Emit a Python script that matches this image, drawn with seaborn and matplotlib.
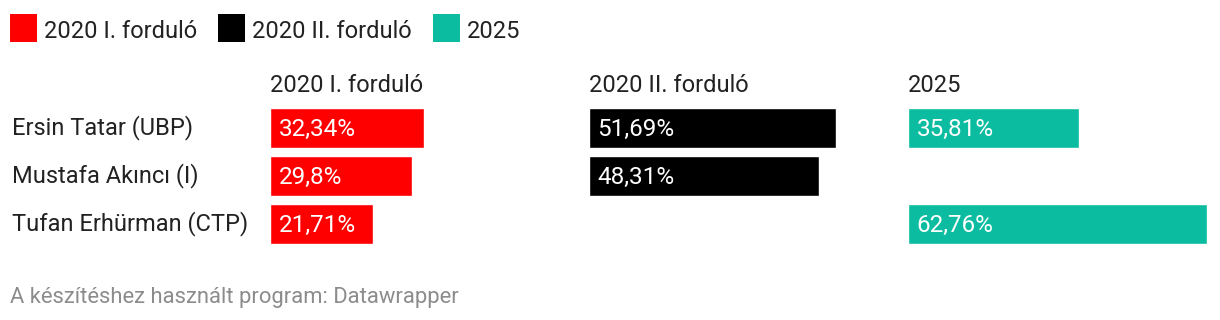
import numpy as np
import pandas as pd
import matplotlib
matplotlib.use("Agg")
import matplotlib.pyplot as plt
import matplotlib.patches as mpatches
from matplotlib.transforms import offset_copy
import seaborn as sns

candidates = ["Ersin Tatar (UBP)", "Mustafa Akıncı (I)", "Tufan Erhürman (CTP)"]
series_names = ["2020 I. forduló", "2020 II. forduló", "2025"]
round1_2020 = [32.34, 29.8, 21.71]
round2_2020 = [51.69, 48.31, np.nan]
vals_2025 = [35.81, np.nan, 62.76]
colors = ["#ff0000", "#000000", "#0bbca0"]
footer = "A készítéshez használt program: Datawrapper"

sns.set_theme(style="white")
plt.rcParams["font.family"] = ["Roboto", "DejaVu Sans"]

W, H = 1220, 320
fig = plt.figure(figsize=(W / 100, H / 100), dpi=100)
fig.patch.set_facecolor("white")

FS = 17  # pt
FS_BAR = 17.5
TXT = "#222222"

def fx(px):
    return px / W

def fy(py):
    return 1 - py / H

col_left = [270, 589, 908]
col_width = 300
xmax = 62.76
ax_top, ax_bot = 104, 248

all_series = [round1_2020, round2_2020, vals_2025]
for k, (name, vals, c) in enumerate(zip(series_names, all_series, colors)):
    ax = fig.add_axes([fx(col_left[k] - 0.5), fy(ax_bot), col_width / W, (ax_bot - ax_top) / H])
    df = pd.DataFrame({"cand": candidates, "val": vals})
    sns.barplot(data=df, x="val", y="cand", order=candidates, color=c,
                saturation=1, width=40 / 48, ax=ax, orient="h")
    ax.set_xlim(0, xmax)
    ax.set_ylim(2 + 0.5, -0.5)
    ax.axis("off")
    tr = offset_copy(ax.transData, fig=fig, x=9, y=-7.5, units="dots")
    for i, v in enumerate(vals):
        if np.isfinite(v):
            lab = f"{v:g}".replace(".", ",") + "%"
            ax.text(0, i, lab, transform=tr, color="white", fontsize=FS_BAR,
                    va="baseline", ha="left")
    fig.text(fx(col_left[k]), fy(92), name, fontsize=FS, color=TXT,
             va="baseline", ha="left")

for i, cand in enumerate(candidates):
    fig.text(fx(12), fy(134 + 48 * i), cand, fontsize=FS, color=TXT,
             va="baseline", ha="left")

# legend (manual, Datawrapper style)
renderer = fig.canvas.get_renderer()
x = 10
for n, c in zip(series_names, colors):
    fig.add_artist(mpatches.Rectangle((fx(x), fy(42)), 27 / W, 28 / H,
                                      transform=fig.transFigure, facecolor=c,
                                      edgecolor="none"))
    t = fig.text(fx(x + 34), fy(38), n, fontsize=FS, color=TXT,
                 va="baseline", ha="left")
    bb = t.get_window_extent(renderer=renderer)
    x = bb.x1 + 21

fig.text(fx(10), fy(303), footer, fontsize=15.8, color="#8c8c8c",
         va="baseline", ha="left")

fig.savefig("out.png", dpi=100, facecolor="white")
